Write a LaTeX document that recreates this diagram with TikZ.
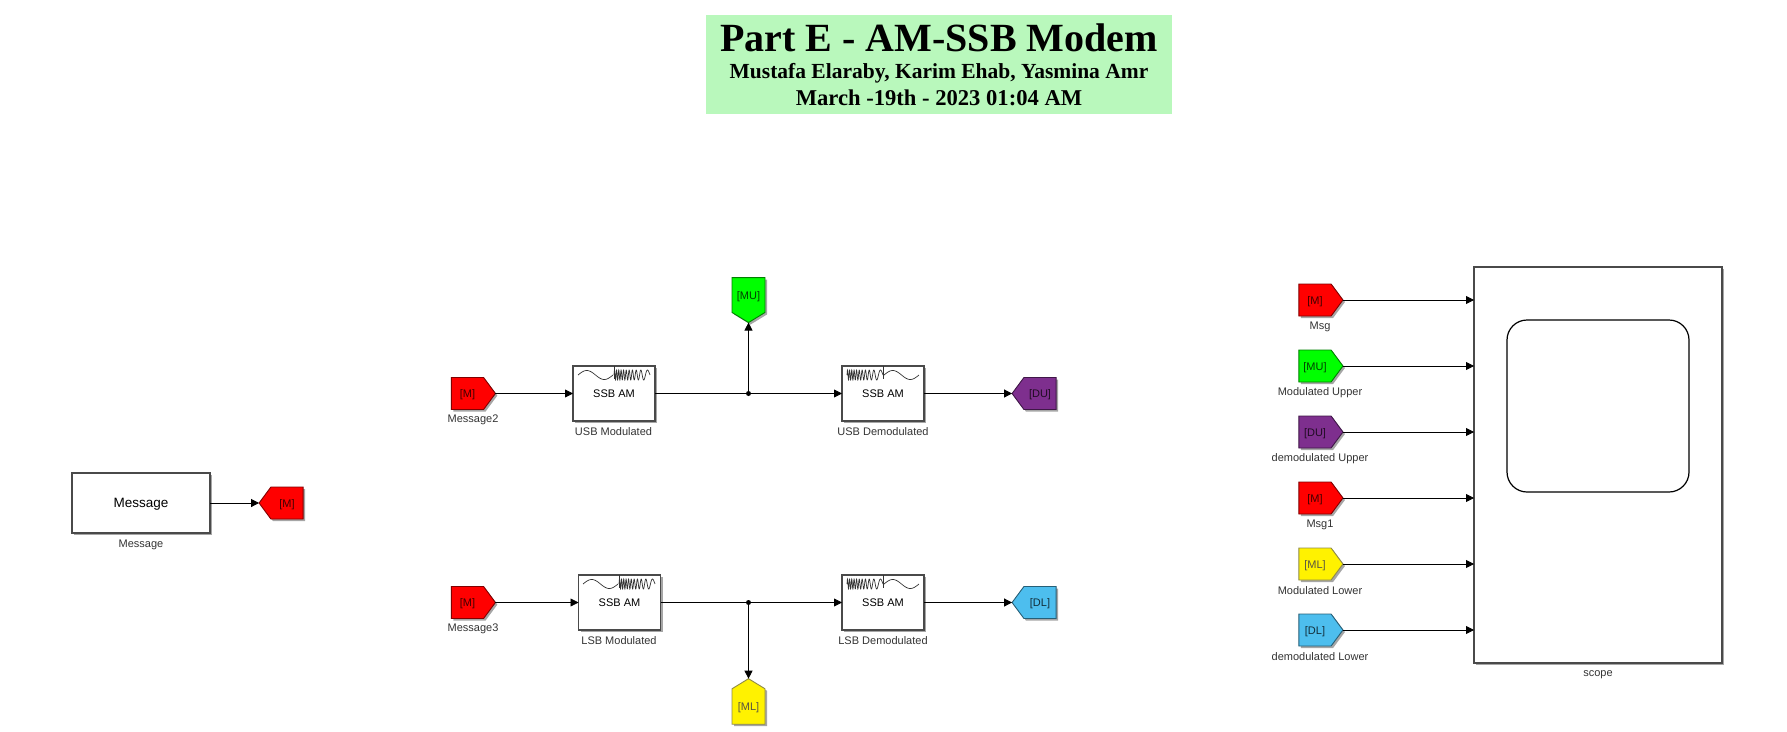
\documentclass[tikz,border=0pt]{standalone}
\usepackage{xcolor}
\usepackage{fontspec}
\setmainfont{Liberation Sans}
\newfontfamily\titlefont{Liberation Serif}
\usetikzlibrary{arrows.meta,shapes.symbols,shadows}
\definecolor{titlegreen}{HTML}{B9F8BC}
\definecolor{tagpurple}{HTML}{7E2F8E}
\definecolor{tagblue}{HTML}{4DBEEE}
\definecolor{blockline}{HTML}{4A4A4A}
\definecolor{labeltext}{HTML}{333333}
\tikzset{
  blockshadow/.style={drop shadow={shadow xshift=2pt, shadow yshift=-2pt, fill=black, opacity=0.35}},
  simblock/.style={draw=blockline, fill=white, line width=1.1pt, outer sep=0pt, inner sep=0pt, minimum width=82pt, minimum height=55pt, text height=8pt, text depth=0pt, font=\fontsize{11}{13}\selectfont, blockshadow},
  simtag/.style={shape=signal, draw=#1!50!black, fill=#1, text=#1!25!black, line width=0.9pt, outer sep=0pt, inner sep=0pt, signal pointer angle=107, text height=9pt, text depth=1pt, font=\fontsize{11}{13}\selectfont, blockshadow},
  tagright/.style={simtag=#1, signal to=east, minimum width=44pt, minimum height=32pt},
  tagleft/.style={simtag=#1, signal to=west, minimum width=44pt, minimum height=32pt},
  tagdown/.style={simtag=#1, signal to=south, signal pointer angle=117, minimum width=33pt, minimum height=42pt},
  tagup/.style={simtag=#1, signal to=north, signal pointer angle=117, minimum width=33pt, minimum height=42pt},
  blocklabel/.style={text=labeltext, inner sep=0pt, yshift=-0.8pt, font=\fontsize{11}{13}\selectfont},
  sigline/.style={-{Triangle[length=8pt,width=8pt]}, line width=0.8pt},
  sigplain/.style={line width=0.8pt},
  junction/.style={circle, fill=black, inner sep=0pt, minimum size=5pt},
  iconline/.style={line width=0.7pt, black!80}
}
% sine and chirp drawn inside the SSB AM blocks
\newcommand{\sinewave}[2]{\draw[iconline] plot[domain=0:1, samples=40] ({#1+35*\x},{#2-4.5*sin(360*\x)});}
\newcommand{\chirpwave}[2]{\draw[iconline] plot[domain=0:1, samples=220] ({#1+36*\x},{#2-5*sin(360*(18*\x-7.5*\x*\x))});}
\begin{document}
\begin{tikzpicture}[x=1pt,y=-1pt]
\useasboundingbox (0,0) rectangle (1787,731);
\node[fill=titlegreen, minimum width=466pt, minimum height=99pt, align=center, inner sep=0pt] (title) at (939,64.5) {\titlefont\bfseries\fontsize{40}{40}\selectfont Part E - AM-SSB Modem\\[11pt]
\titlefont\bfseries\fontsize{21.5}{23}\selectfont Mustafa Elaraby, Karim Ehab, Yasmina Amr\\[5pt]
\titlefont\bfseries\fontsize{22.6}{23}\selectfont March -19th - 2023 01:04 AM};
% message source
\node[simblock, minimum width=138pt, minimum height=60pt, text height=10pt, text depth=1pt, font=\fontsize{13.5}{15}\selectfont] (message) at (141,503) {Message};
\node[blocklabel] (messagelabel) at (141,544) {Message};
\node[tagleft=red] (msgout) at (287,503) {[M]};
\draw[sigline] (message.east) -- (msgout.west);
% upper sideband
\node[tagright=red] (msgtwo) at (467.5,393.5) {[M]};
\node[blocklabel] (msgtwolabel) at (473,419) {Message2};
\node[simblock] (usbmod) at (614,393.5) {SSB AM};
\node[blocklabel] (usbmodlabel) at (613.5,431) {USB Modulated};
\node[junction] (usbjoin) at (748.5,393.5) {};
\node[tagdown=green] (mutag) at (748.5,295) {[MU]};
\node[simblock] (usbdemod) at (883,393.5) {SSB AM};
\node[blocklabel] (usbdemodlabel) at (883,431) {USB Demodulated};
\node[tagleft=tagpurple] (dutag) at (1040,393.5) {[DU]};
\draw[sigline] (msgtwo.east) -- (usbmod.west);
\draw[sigplain] (usbmod.east) -- (usbjoin);
\draw[sigline] (usbjoin) -- (mutag.south);
\draw[sigline] (usbjoin) -- (usbdemod.west);
\draw[sigline] (usbdemod.east) -- (dutag.west);
% lower sideband
\node[tagright=red] (msgthree) at (467.5,602.5) {[M]};
\node[blocklabel] (msgthreelabel) at (473,628) {Message3};
\node[simblock] (lsbmod) at (619.5,602.5) {SSB AM};
\node[blocklabel] (lsbmodlabel) at (619,640) {LSB Modulated};
\node[junction] (lsbjoin) at (748.5,602.5) {};
\node[tagup=yellow] (mltag) at (748.5,706.5) {[ML]};
\node[simblock] (lsbdemod) at (883,602.5) {SSB AM};
\node[blocklabel] (lsbdemodlabel) at (883,640) {LSB Demodulated};
\node[tagleft=tagblue] (dltag) at (1040,602.5) {[DL]};
\draw[sigline] (msgthree.east) -- (lsbmod.west);
\draw[sigplain] (lsbmod.east) -- (lsbjoin);
\draw[sigline] (lsbjoin) -- (mltag.north);
\draw[sigline] (lsbjoin) -- (lsbdemod.west);
\draw[sigline] (lsbdemod.east) -- (dltag.west);
% icons
\sinewave{578}{375}
\draw[iconline] (614,366) -- (614,379);
\chirpwave{614}{375}
\chirpwave{847}{375}
\draw[iconline] (883,366) -- (883,379);
\sinewave{884}{375}
\sinewave{583}{584}
\draw[iconline] (619,575) -- (619,588);
\chirpwave{619}{584}
\chirpwave{847}{584}
\draw[iconline] (883,575) -- (883,588);
\sinewave{884}{584}
% scope
\node[simblock, minimum width=248pt, minimum height=396pt] (scope) at (1598,465) {};
\node[draw, line width=1.2pt, rounded corners=20pt, minimum width=182pt, minimum height=172pt, inner sep=0pt] (screen) at (1598,406) {};
\node[blocklabel] (scopelabel) at (1598,674) {scope};
\node[tagright=red] (msgin) at (1315,300) {[M]};
\node[tagright=green] (muin) at (1315,366) {[MU]};
\node[tagright=tagpurple] (duin) at (1315,432) {[DU]};
\node[tagright=red] (msgonein) at (1315,498) {[M]};
\node[tagright=yellow] (mlin) at (1315,564) {[ML]};
\node[tagright=tagblue] (dlin) at (1315,630) {[DL]};
\node[blocklabel] (msginlabel) at (1320,326) {Msg};
\node[blocklabel] (muinlabel) at (1320,392) {Modulated Upper};
\node[blocklabel] (duinlabel) at (1320,458) {demodulated Upper};
\node[blocklabel] (msgoneinlabel) at (1320,524) {Msg1};
\node[blocklabel] (mlinlabel) at (1320,590) {Modulated Lower};
\node[blocklabel] (dlinlabel) at (1320,656) {demodulated Lower};
\draw[sigline] (msgin.east) -- (msgin.east -| scope.west);
\draw[sigline] (muin.east) -- (muin.east -| scope.west);
\draw[sigline] (duin.east) -- (duin.east -| scope.west);
\draw[sigline] (msgonein.east) -- (msgonein.east -| scope.west);
\draw[sigline] (mlin.east) -- (mlin.east -| scope.west);
\draw[sigline] (dlin.east) -- (dlin.east -| scope.west);
\end{tikzpicture}
\end{document}
